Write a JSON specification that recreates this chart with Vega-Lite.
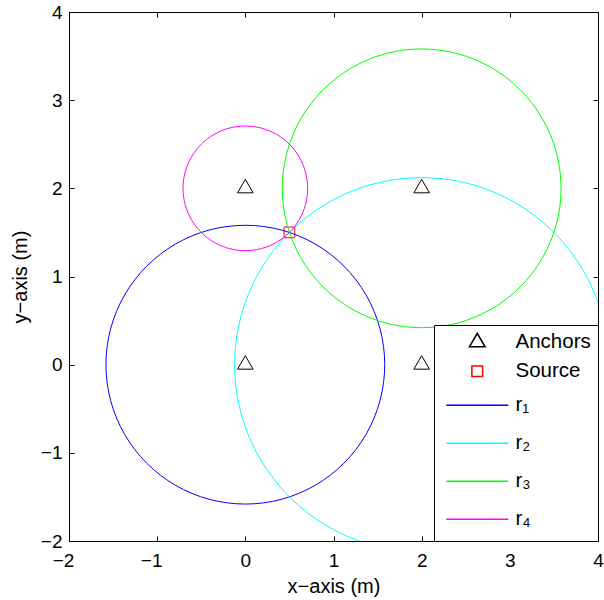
{
  "$schema": "https://vega.github.io/schema/vega-lite/v6.json",
  "width": 529,
  "height": 529,
  "autosize": "none",
  "padding": {"left": 69, "top": 12, "right": 6, "bottom": 59},
  "config": {
    "font": "Liberation Sans",
    "view": {"stroke": "black", "strokeWidth": 1},
    "axis": {
      "grid": false,
      "domainColor": "black",
      "domainWidth": 1,
      "tickColor": "black",
      "tickWidth": 1,
      "tickSize": -5,
      "labelColor": "black",
      "labelFont": "Liberation Sans",
      "labelFontSize": 19,
      "titleColor": "black",
      "titleFont": "Liberation Sans",
      "titleFontSize": 20,
      "titleFontWeight": "normal"
    },
    "legend": {
      "title": null,
      "orient": "bottom-right",
      "offset": 0,
      "padding": 7,
      "strokeColor": "black",
      "fillColor": "white",
      "labelFont": "Liberation Sans",
      "labelFontSize": 20.5,
      "labelColor": "black",
      "labelLimit": 300,
      "symbolSize": 256,
      "symbolOffset": 26,
      "labelOffset": 28,
      "rowPadding": 8
    }
  },
  "datasets": {
    "anchors": [
      {"series": "Anchors", "x": 0, "y": 0},
      {"series": "Anchors", "x": 0, "y": 2},
      {"series": "Anchors", "x": 2, "y": 2},
      {"series": "Anchors", "x": 2, "y": 0}
    ],
    "source": [
      {"series": "Source", "x": 0.5, "y": 1.5}
    ],
    "circles": [
      {"series": "r₁", "k": 0, "x": 1.5811, "y": 0},
      {"series": "r₁", "k": 1, "x": 1.5273, "y": 0.4092},
      {"series": "r₁", "k": 2, "x": 1.3693, "y": 0.7906},
      {"series": "r₁", "k": 3, "x": 1.118, "y": 1.118},
      {"series": "r₁", "k": 4, "x": 0.7906, "y": 1.3693},
      {"series": "r₁", "k": 5, "x": 0.4092, "y": 1.5273},
      {"series": "r₁", "k": 6, "x": 0, "y": 1.5811},
      {"series": "r₁", "k": 7, "x": -0.4092, "y": 1.5273},
      {"series": "r₁", "k": 8, "x": -0.7906, "y": 1.3693},
      {"series": "r₁", "k": 9, "x": -1.118, "y": 1.118},
      {"series": "r₁", "k": 10, "x": -1.3693, "y": 0.7906},
      {"series": "r₁", "k": 11, "x": -1.5273, "y": 0.4092},
      {"series": "r₁", "k": 12, "x": -1.5811, "y": 0},
      {"series": "r₁", "k": 13, "x": -1.5273, "y": -0.4092},
      {"series": "r₁", "k": 14, "x": -1.3693, "y": -0.7906},
      {"series": "r₁", "k": 15, "x": -1.118, "y": -1.118},
      {"series": "r₁", "k": 16, "x": -0.7906, "y": -1.3693},
      {"series": "r₁", "k": 17, "x": -0.4092, "y": -1.5273},
      {"series": "r₁", "k": 18, "x": 0, "y": -1.5811},
      {"series": "r₁", "k": 19, "x": 0.4092, "y": -1.5273},
      {"series": "r₁", "k": 20, "x": 0.7906, "y": -1.3693},
      {"series": "r₁", "k": 21, "x": 1.118, "y": -1.118},
      {"series": "r₁", "k": 22, "x": 1.3693, "y": -0.7906},
      {"series": "r₁", "k": 23, "x": 1.5273, "y": -0.4092},
      {"series": "r₂", "k": 0, "x": 4.1213, "y": 0},
      {"series": "r₂", "k": 1, "x": 4.049, "y": 0.549},
      {"series": "r₂", "k": 2, "x": 3.8371, "y": 1.0607},
      {"series": "r₂", "k": 3, "x": 3.5, "y": 1.5},
      {"series": "r₂", "k": 4, "x": 3.0607, "y": 1.8371},
      {"series": "r₂", "k": 5, "x": 2.549, "y": 2.049},
      {"series": "r₂", "k": 6, "x": 2, "y": 2.1213},
      {"series": "r₂", "k": 7, "x": 1.451, "y": 2.049},
      {"series": "r₂", "k": 8, "x": 0.9393, "y": 1.8371},
      {"series": "r₂", "k": 9, "x": 0.5, "y": 1.5},
      {"series": "r₂", "k": 10, "x": 0.1629, "y": 1.0607},
      {"series": "r₂", "k": 11, "x": -0.049, "y": 0.549},
      {"series": "r₂", "k": 12, "x": -0.1213, "y": 0},
      {"series": "r₂", "k": 13, "x": -0.049, "y": -0.549},
      {"series": "r₂", "k": 14, "x": 0.1629, "y": -1.0607},
      {"series": "r₂", "k": 15, "x": 0.5, "y": -1.5},
      {"series": "r₂", "k": 16, "x": 0.9393, "y": -1.8371},
      {"series": "r₂", "k": 17, "x": 1.451, "y": -2.049},
      {"series": "r₂", "k": 18, "x": 2, "y": -2.1213},
      {"series": "r₂", "k": 19, "x": 2.549, "y": -2.049},
      {"series": "r₂", "k": 20, "x": 3.0607, "y": -1.8371},
      {"series": "r₂", "k": 21, "x": 3.5, "y": -1.5},
      {"series": "r₂", "k": 22, "x": 3.8371, "y": -1.0607},
      {"series": "r₂", "k": 23, "x": 4.049, "y": -0.549},
      {"series": "r₃", "k": 0, "x": 3.5811, "y": 2},
      {"series": "r₃", "k": 1, "x": 3.5273, "y": 2.4092},
      {"series": "r₃", "k": 2, "x": 3.3693, "y": 2.7906},
      {"series": "r₃", "k": 3, "x": 3.118, "y": 3.118},
      {"series": "r₃", "k": 4, "x": 2.7906, "y": 3.3693},
      {"series": "r₃", "k": 5, "x": 2.4092, "y": 3.5273},
      {"series": "r₃", "k": 6, "x": 2, "y": 3.5811},
      {"series": "r₃", "k": 7, "x": 1.5908, "y": 3.5273},
      {"series": "r₃", "k": 8, "x": 1.2094, "y": 3.3693},
      {"series": "r₃", "k": 9, "x": 0.882, "y": 3.118},
      {"series": "r₃", "k": 10, "x": 0.6307, "y": 2.7906},
      {"series": "r₃", "k": 11, "x": 0.4727, "y": 2.4092},
      {"series": "r₃", "k": 12, "x": 0.4189, "y": 2},
      {"series": "r₃", "k": 13, "x": 0.4727, "y": 1.5908},
      {"series": "r₃", "k": 14, "x": 0.6307, "y": 1.2094},
      {"series": "r₃", "k": 15, "x": 0.882, "y": 0.882},
      {"series": "r₃", "k": 16, "x": 1.2094, "y": 0.6307},
      {"series": "r₃", "k": 17, "x": 1.5908, "y": 0.4727},
      {"series": "r₃", "k": 18, "x": 2, "y": 0.4189},
      {"series": "r₃", "k": 19, "x": 2.4092, "y": 0.4727},
      {"series": "r₃", "k": 20, "x": 2.7906, "y": 0.6307},
      {"series": "r₃", "k": 21, "x": 3.118, "y": 0.882},
      {"series": "r₃", "k": 22, "x": 3.3693, "y": 1.2094},
      {"series": "r₃", "k": 23, "x": 3.5273, "y": 1.5908},
      {"series": "r₄", "k": 0, "x": 0.7071, "y": 2},
      {"series": "r₄", "k": 1, "x": 0.683, "y": 2.183},
      {"series": "r₄", "k": 2, "x": 0.6124, "y": 2.3536},
      {"series": "r₄", "k": 3, "x": 0.5, "y": 2.5},
      {"series": "r₄", "k": 4, "x": 0.3536, "y": 2.6124},
      {"series": "r₄", "k": 5, "x": 0.183, "y": 2.683},
      {"series": "r₄", "k": 6, "x": 0, "y": 2.7071},
      {"series": "r₄", "k": 7, "x": -0.183, "y": 2.683},
      {"series": "r₄", "k": 8, "x": -0.3536, "y": 2.6124},
      {"series": "r₄", "k": 9, "x": -0.5, "y": 2.5},
      {"series": "r₄", "k": 10, "x": -0.6124, "y": 2.3536},
      {"series": "r₄", "k": 11, "x": -0.683, "y": 2.183},
      {"series": "r₄", "k": 12, "x": -0.7071, "y": 2},
      {"series": "r₄", "k": 13, "x": -0.683, "y": 1.817},
      {"series": "r₄", "k": 14, "x": -0.6124, "y": 1.6464},
      {"series": "r₄", "k": 15, "x": -0.5, "y": 1.5},
      {"series": "r₄", "k": 16, "x": -0.3536, "y": 1.3876},
      {"series": "r₄", "k": 17, "x": -0.183, "y": 1.317},
      {"series": "r₄", "k": 18, "x": 0, "y": 1.2929},
      {"series": "r₄", "k": 19, "x": 0.183, "y": 1.317},
      {"series": "r₄", "k": 20, "x": 0.3536, "y": 1.3876},
      {"series": "r₄", "k": 21, "x": 0.5, "y": 1.5},
      {"series": "r₄", "k": 22, "x": 0.6124, "y": 1.6464},
      {"series": "r₄", "k": 23, "x": 0.683, "y": 1.817}
    ]
  },
  "layer": [
    {
      "data": {"name": "anchors"},
      "mark": {"type": "point", "size": 256, "filled": false, "strokeWidth": 1, "opacity": 1},
      "encoding": {
        "x": {
          "field": "x", "type": "quantitative",
          "scale": {"domain": [-2, 4], "nice": false, "zero": false},
          "axis": {
            "orient": "bottom", "title": "x−axis (m)", "values": [-2, -1, 0, 1, 2, 3, 4], "format": "d",
            "labelFlush": false, "labelPadding": 15, "titlePadding": 6,
            "labelOffset": {"condition": {"test": "datum.value < 0", "value": -6}, "value": 0}
          }
        },
        "y": {
          "field": "y", "type": "quantitative",
          "scale": {"domain": [-2, 4], "nice": false, "zero": false},
          "axis": {
            "orient": "left", "title": "y−axis (m)", "values": [-2, -1, 0, 1, 2, 3, 4], "format": "d",
            "labelPadding": 12, "titlePadding": 10
          }
        },
        "color": {
          "field": "series", "type": "nominal",
          "scale": {"domain": ["Anchors", "Source", "r₁", "r₂", "r₃", "r₄"], "range": ["black", "red", "blue", "cyan", "#00ff00", "magenta"]},
          "legend": {
            "encode": {
              "symbols": {
                "stroke": {"value": {"expr": "scale('color', datum.value)"}},
                "fill": {"value": "transparent"},
                "size": {"value": 256},
                "strokeWidth": {"value": 1},
                "opacity": {"value": 1}
              }
            }
          }
        },
        "shape": {
          "field": "series", "type": "nominal",
          "scale": {
            "domain": ["Anchors", "Source", "r₁", "r₂", "r₃", "r₄"],
            "range": [
              "M0,-1.125L0.975,0.5625L-0.975,0.5625Z",
              "M-0.67,-0.67H0.67V0.67H-0.67Z",
              "M-3.875,0H3.875M0,-1.44M0,1.44",
              "M-3.875,0H3.875M0,-1.44M0,1.44",
              "M-3.875,0H3.875M0,-1.44M0,1.44",
              "M-3.875,0H3.875M0,-1.44M0,1.44"
            ]
          },
          "legend": {
            "encode": {
              "symbols": {
                "stroke": {"value": {"expr": "scale('color', datum.value)"}},
                "fill": {"value": "transparent"},
                "size": {"value": 256},
                "strokeWidth": {"value": 1},
                "opacity": {"value": 1}
              }
            }
          }
        }
      }
    },
    {
      "data": {"name": "source"},
      "mark": {"type": "point", "size": 256, "filled": false, "strokeWidth": 1, "opacity": 1},
      "encoding": {
        "x": {"field": "x", "type": "quantitative", "axis": null},
        "y": {"field": "y", "type": "quantitative", "axis": null},
        "color": {"field": "series", "type": "nominal"},
        "shape": {"field": "series", "type": "nominal"}
      }
    },
    {
      "data": {"name": "circles"},
      "mark": {"type": "line", "interpolate": "cardinal-closed", "clip": true, "strokeWidth": 1},
      "encoding": {
        "x": {"field": "x", "type": "quantitative", "axis": null},
        "y": {"field": "y", "type": "quantitative", "axis": null},
        "color": {"field": "series", "type": "nominal"},
        "order": {"field": "k", "type": "quantitative"}
      }
    },
    {
      "data": {"name": "anchors"},
      "mark": {"type": "point", "opacity": 0},
      "encoding": {
        "x": {"field": "x", "type": "quantitative", "axis": {"orient": "top", "labels": false, "title": null, "values": [-2, -1, 0, 1, 2, 3, 4]}},
        "y": {"field": "y", "type": "quantitative", "axis": {"orient": "right", "labels": false, "title": null, "values": [-2, -1, 0, 1, 2, 3, 4]}}
      }
    }
  ],
  "resolve": {"axis": {"x": "independent", "y": "independent"}}
}
